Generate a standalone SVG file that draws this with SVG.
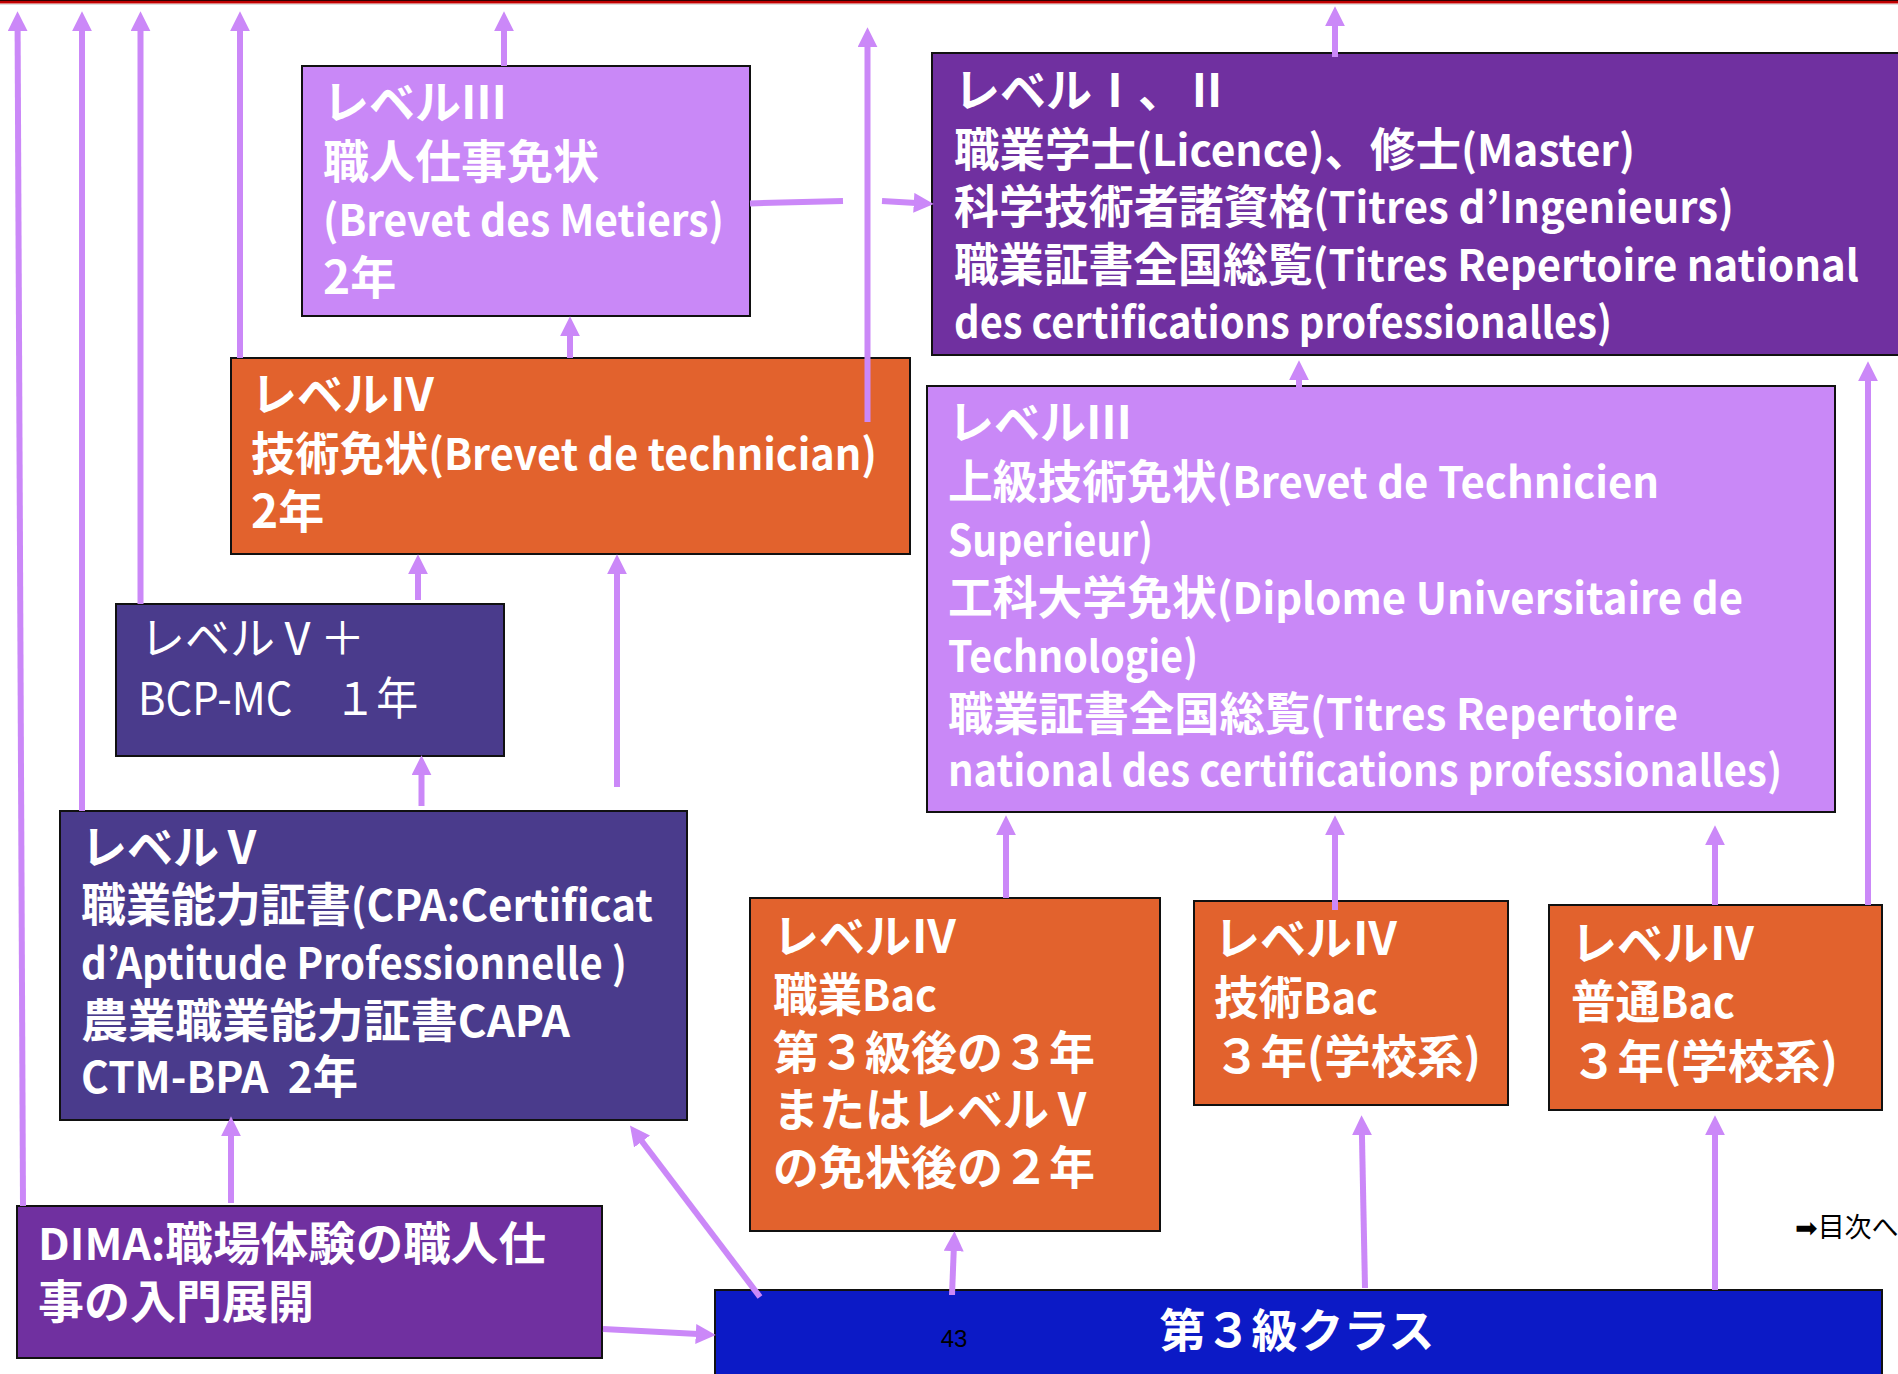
<svg xmlns="http://www.w3.org/2000/svg" width="1898" height="1374" viewBox="0 0 1898 1374">
<defs>
<style>
.box{stroke:#111;stroke-width:2}
.lp{fill:#C988F7}
.dp{fill:#7030A0}
.ind{fill:#4A3B8C}
.or{fill:#E2622D}
.bl{fill:#0C1AC6}
.t{font-family:"Noto Sans CJK JP","Noto Sans",sans-serif;font-weight:bold;font-size:46px;fill:#fff}
.tn{font-family:"Noto Sans CJK JP","Noto Sans",sans-serif;font-weight:normal;font-size:45px;fill:#fff}
.l{font-size:43px}
.c line{stroke:#CB88F8;stroke-width:6;fill:none}
.c .a{marker-end:url(#ah)}
</style>
<marker id="ah" markerUnits="userSpaceOnUse" markerWidth="20" markerHeight="20" viewBox="0 0 18 18" refX="2" refY="9" orient="auto">
<path d="M0,0 L18,9 L0,18 z" fill="#CB88F8"/>
</marker>
</defs>
<rect x="0" y="0" width="1898" height="1374" fill="#fff"/>
<rect x="0" y="0" width="1898" height="3.5" fill="#C00000"/>
<line x1="0" y1="0.5" x2="1898" y2="0.5" stroke="#300" stroke-width="1"/>
<line x1="0" y1="4.5" x2="1898" y2="4.5" stroke="#ddd" stroke-width="1"/>

<g id="node-metiers">
<rect class="box lp" x="302" y="66" width="448" height="250"/>
<text class="t" x="323" y="119">レベルⅢ</text>
<text class="t" x="323" y="178">職人仕事免状</text>
<text class="t l" x="323" y="236" textLength="401" lengthAdjust="spacingAndGlyphs">(Brevet des Metiers)</text>
<text class="t" x="323" y="294">2年</text>
</g>

<g id="node-level12">
<rect class="box dp" x="932" y="53" width="980" height="302"/>
<text class="t" x="954" y="107">レベルⅠ、Ⅱ</text>
<text class="t" x="954" y="166" textLength="681" lengthAdjust="spacingAndGlyphs">職業学士<tspan class="l">(Licence)</tspan>、修士<tspan class="l">(Master)</tspan></text>
<text class="t" x="954" y="223" textLength="780" lengthAdjust="spacingAndGlyphs">科学技術者諸資格<tspan class="l">(Titres d’Ingenieurs)</tspan></text>
<text class="t" x="954" y="281" textLength="905" lengthAdjust="spacingAndGlyphs">職業証書全国総覧<tspan class="l">(Titres Repertoire national</tspan></text>
<text class="t l" x="954" y="338" textLength="658" lengthAdjust="spacingAndGlyphs">des certifications professionalles)</text>
</g>

<g id="node-technicien">
<rect class="box or" x="231" y="358" width="679" height="196"/>
<text class="t" x="251" y="411">レベルⅣ</text>
<text class="t" x="251" y="470" textLength="626" lengthAdjust="spacingAndGlyphs">技術免状<tspan class="l">(Brevet de technician)</tspan></text>
<text class="t" x="251" y="528">2年</text>
</g>

<g id="node-bts">
<rect class="box lp" x="927" y="386" width="908" height="426"/>
<text class="t" x="948" y="439">レベルⅢ</text>
<text class="t" x="948" y="498" textLength="711" lengthAdjust="spacingAndGlyphs">上級技術免状<tspan class="l">(Brevet de Technicien</tspan></text>
<text class="t l" x="948" y="556" textLength="205" lengthAdjust="spacingAndGlyphs">Superieur)</text>
<text class="t" x="948" y="614" textLength="795" lengthAdjust="spacingAndGlyphs">工科大学免状<tspan class="l">(Diplome Universitaire de</tspan></text>
<text class="t l" x="948" y="672" textLength="250" lengthAdjust="spacingAndGlyphs">Technologie)</text>
<text class="t" x="948" y="730" textLength="730" lengthAdjust="spacingAndGlyphs">職業証書全国総覧<tspan class="l">(Titres Repertoire</tspan></text>
<text class="t l" x="948" y="786" textLength="834" lengthAdjust="spacingAndGlyphs">national des certifications professionalles)</text>
</g>

<g id="node-bcp">
<rect class="box ind" x="116" y="604" width="388" height="152"/>
<text class="tn" x="140" y="655">レベルⅤ＋</text>
<text class="tn" x="138" y="715" textLength="280" lengthAdjust="spacingAndGlyphs">BCP-MC　１年</text>
</g>

<g id="node-level5">
<rect class="box ind" x="60" y="811" width="627" height="309"/>
<text class="t" x="81" y="864">レベルⅤ</text>
<text class="t" x="81" y="921" textLength="572" lengthAdjust="spacingAndGlyphs">職業能力証書<tspan class="l">(CPA:Certificat</tspan></text>
<text class="t l" x="81" y="979" textLength="546" lengthAdjust="spacingAndGlyphs">d’Aptitude Professionnelle )</text>
<text class="t" x="81" y="1037" textLength="489" lengthAdjust="spacingAndGlyphs">農業職業能力証書<tspan class="l">CAPA</tspan></text>
<text class="t" x="81" y="1093" textLength="277" lengthAdjust="spacingAndGlyphs"><tspan class="l">CTM-BPA&#160;&#160;2</tspan>年</text>
</g>

<g id="node-bacpro">
<rect class="box or" x="750" y="898" width="410" height="333"/>
<text class="t" x="773" y="953">レベルⅣ</text>
<text class="t" x="773" y="1011" textLength="164" lengthAdjust="spacingAndGlyphs">職業<tspan class="l">Bac</tspan></text>
<text class="t" x="773" y="1069">第３級後の３年</text>
<text class="t" x="773" y="1126">またはレベルⅤ</text>
<text class="t" x="773" y="1184">の免状後の２年</text>
</g>

<g id="node-bactech">
<rect class="box or" x="1194" y="901" width="314" height="204"/>
<text class="t" x="1214" y="955">レベルⅣ</text>
<text class="t" x="1214" y="1014" textLength="164" lengthAdjust="spacingAndGlyphs">技術<tspan class="l">Bac</tspan></text>
<text class="t" x="1214" y="1073" textLength="267" lengthAdjust="spacingAndGlyphs">３年(学校系)</text>
</g>

<g id="node-bacgen">
<rect class="box or" x="1549" y="905" width="333" height="205"/>
<text class="t" x="1571" y="960">レベルⅣ</text>
<text class="t" x="1571" y="1018" textLength="164" lengthAdjust="spacingAndGlyphs">普通<tspan class="l">Bac</tspan></text>
<text class="t" x="1571" y="1078" textLength="267" lengthAdjust="spacingAndGlyphs">３年(学校系)</text>
</g>

<g id="node-dima">
<rect class="box dp" x="17" y="1206" width="585" height="152"/>
<text class="t" x="38" y="1260" textLength="508" lengthAdjust="spacingAndGlyphs"><tspan class="l">DIMA:</tspan>職場体験の職人仕</text>
<text class="t" x="38" y="1318">事の入門展開</text>
</g>

<g id="node-3rd">
<rect class="box bl" x="715" y="1290" width="1167" height="110"/>
<text class="t" x="1297" y="1347" text-anchor="middle">第３級クラス</text>
<text x="954" y="1347" text-anchor="middle" font-family="'Liberation Sans',sans-serif" font-size="24" fill="#000">43</text>
</g>

<g id="connectors" class="c">
<line class="a" x1="23" y1="1206" x2="17.6" y2="29"/>
<line class="a" x1="82" y1="811" x2="82" y2="29"/>
<line class="a" x1="140.5" y1="604" x2="140.5" y2="29"/>
<line class="a" x1="240" y1="358" x2="240" y2="29"/>
<line class="a" x1="504" y1="66" x2="504" y2="29"/>
<line class="a" x1="867.5" y1="422" x2="867.5" y2="45"/>
<line class="a" x1="1335" y1="57" x2="1335" y2="24"/>
<line class="a" x1="1868" y1="905" x2="1868" y2="379"/>
<line x1="750" y1="203.4" x2="843" y2="201"/>
<line class="a" x1="882" y1="201" x2="916" y2="203"/>
<line class="a" x1="570" y1="358" x2="570" y2="334"/>
<line class="a" x1="418" y1="600" x2="418" y2="572"/>
<line class="a" x1="617" y1="787" x2="617" y2="572"/>
<line class="a" x1="421.5" y1="806" x2="421.5" y2="773"/>
<line class="a" x1="231" y1="1203" x2="231" y2="1134"/>
<line class="a" x1="760" y1="1297" x2="640.7" y2="1139.7"/>
<line class="a" x1="603" y1="1329" x2="698" y2="1334.1"/>
<line class="a" x1="952" y1="1295" x2="953.8" y2="1249"/>
<line class="a" x1="1365" y1="1288" x2="1361.9" y2="1133"/>
<line class="a" x1="1715" y1="1290" x2="1715" y2="1133"/>
<line class="a" x1="1006" y1="898" x2="1006" y2="833"/>
<line class="a" x1="1335" y1="910" x2="1335" y2="833"/>
<line class="a" x1="1715" y1="905" x2="1715" y2="843"/>
<line class="a" x1="1299" y1="387" x2="1299" y2="378"/>
</g>

<text x="1795" y="1237" font-family="'DejaVu Sans','Noto Sans CJK JP',sans-serif" font-size="27" fill="#000">➡<tspan font-family="'Noto Sans CJK JP',sans-serif">目次へ</tspan></text>
</svg>
